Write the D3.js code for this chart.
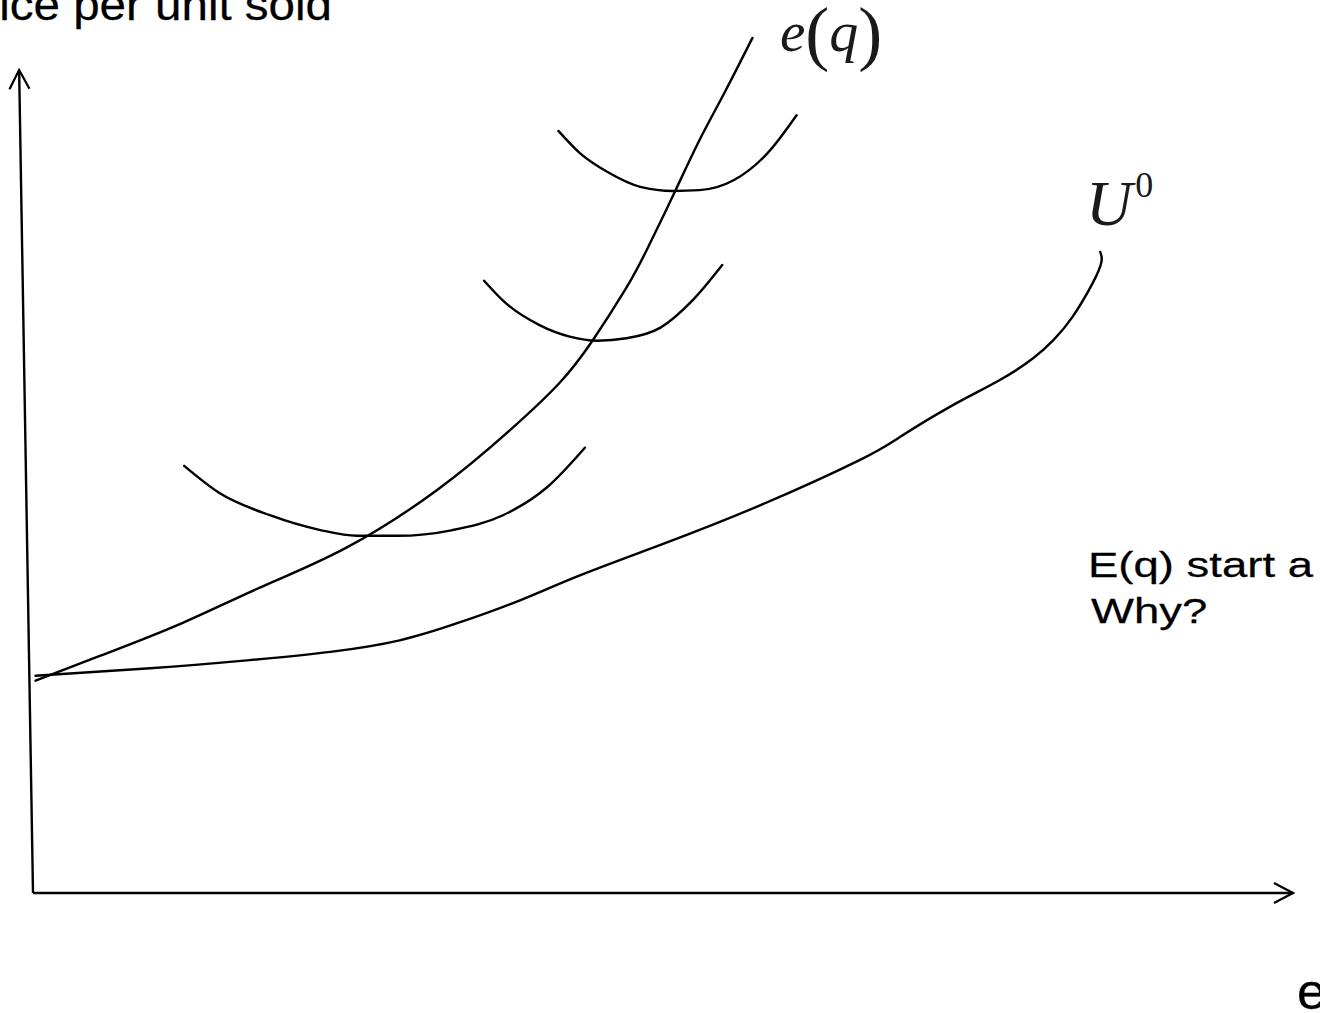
<!DOCTYPE html>
<html>
<head>
<meta charset="utf-8">
<script src="https://cdn.jsdelivr.net/npm/d3@7/dist/d3.min.js"></script>
<style>
  html, body { margin: 0; padding: 0; background: #fff; overflow: hidden; }
  svg { display: block; }
</style>
</head>
<body>
<svg id="chart" width="1320" height="1013"></svg>
<script>
// Quantity / quality (x) against price per unit sold (y), both in 0–100 units.

// Expenditure curve e(q)
const eqX = [0.2, 5.3, 11.7, 18.0, 24.8, 32.1, 37.9, 41.8, 44.4, 47.0, 48.7, 51.0, 52.9, 54.9, 57.1];
const eqY = [25.8, 28.8, 32.7, 37.1, 41.9, 49.0, 56.3, 62.0, 67.1, 73.3, 78.1, 85.4, 91.5, 97.3, 103.9];

// Reservation indifference curve U0
const u0X = [0.2, 9.3, 17.2, 23.6, 29.1, 33.9, 38.7, 43.4, 49.8, 57.7, 65.6, 68.8, 72.8, 76.7, 79.4, 81.0, 82.5, 84.1, 84.8, 84.7];
const u0Y = [26.4, 27.3, 28.3, 29.3, 30.7, 32.9, 35.6, 38.6, 42.3, 47.1, 52.6, 55.4, 59.1, 62.3, 65.0, 67.2, 70.0, 74.1, 76.7, 77.9];

// Three higher indifference curves crossing e(q)
const ic1X = [12.0, 14.8, 18.8, 22.8, 25.7, 28.9, 33.3, 37.3, 40.8, 43.8];
const ic1Y = [51.9, 48.6, 45.9, 44.1, 43.4, 43.4, 44.1, 45.9, 49.3, 54.1];
const ic2X = [35.8, 37.5, 40.2, 42.6, 44.8, 47.1, 49.8, 52.4, 54.7];
const ic2Y = [74.4, 71.7, 69.0, 67.6, 67.1, 67.4, 68.7, 72.1, 76.3];
const ic3X = [41.7, 43.4, 45.6, 48.2, 50.8, 52.9, 55.6, 58.3, 60.6];
const ic3Y = [92.6, 89.9, 87.6, 85.8, 85.3, 85.4, 86.6, 89.9, 94.5];

// Axis ends (the vertical axis leans slightly left toward the top)
const axisXPts = [[0, 0], [100, 0]];
const axisYPts = [[0, 0], [-1.1, 100]];

const labels = {
  yTitle: "Price per unit sold",
  xTitle: "e",
  note1: "E(q) start a",
  note2: "Why?"
};

const svg = d3.select("#chart");
const x = d3.scaleLinear().domain([0, 100]).range([33, 1293]);
const y = d3.scaleLinear().domain([0, 100]).range([893, 70]);

// open chevron arrowhead
svg.append("defs").append("marker")
  .attr("id", "chev")
  .attr("viewBox", "-22 -12 24 24")
  .attr("refX", 0).attr("refY", 0)
  .attr("markerUnits", "userSpaceOnUse")
  .attr("markerWidth", 24).attr("markerHeight", 24)
  .attr("orient", "auto")
  .append("path")
  .attr("d", "M-19,-10 L0,0 L-19,10")
  .attr("fill", "none").attr("stroke", "#000").attr("stroke-width", 2.2);

const straight = d3.line().x(d => x(d[0])).y(d => y(d[1]));
svg.append("path").attr("d", straight(axisXPts))
  .attr("fill", "none").attr("stroke", "#000").attr("stroke-width", 2.4)
  .attr("marker-end", "url(#chev)");
svg.append("path").attr("d", straight(axisYPts))
  .attr("fill", "none").attr("stroke", "#000").attr("stroke-width", 2.4)
  .attr("marker-end", "url(#chev)");

const natural = d3.line().x(d => x(d[0])).y(d => y(d[1])).curve(d3.curveNatural);
const monotone = d3.line().x(d => x(d[0])).y(d => y(d[1])).curve(d3.curveMonotoneX);
const zip = (xs, ys) => xs.map((v, i) => [v, ys[i]]);

function curve(gen, xs, ys) {
  svg.append("path").attr("d", gen(zip(xs, ys)))
    .attr("fill", "none").attr("stroke", "#000")
    .attr("stroke-width", 2.4).attr("stroke-linecap", "round").attr("stroke-linejoin", "round");
}
curve(natural, eqX, eqY);
curve(natural, u0X, u0Y);
curve(monotone, ic1X, ic1Y);
curve(monotone, ic2X, ic2Y);
curve(monotone, ic3X, ic3Y);

// sans-serif annotations (set slightly wide)
function sans(txt, tx, ty, size, sx, anchor) {
  svg.append("text")
    .attr("transform", `translate(${tx},${ty}) scale(${sx},1)`)
    .attr("text-anchor", anchor)
    .attr("font-family", "'Liberation Sans', Arial, sans-serif")
    .attr("font-size", size)
    .attr("fill", "#000")
    .attr("stroke", "#000").attr("stroke-width", 0.25)
    .text(txt);
}
sans(labels.yTitle, 332, 19.5, 44, 1.08, "end");
sans(labels.note1, 1088, 577, 35, 1.3, "start");
sans(labels.note2, 1091, 623, 35, 1.3, "start");
sans(labels.xTitle, 1297, 1009, 50, 1.05, "start");

// math-style curve labels
const eLab = svg.append("text")
  .attr("x", 780).attr("y", 51)
  .attr("font-family", "'Liberation Serif', 'DejaVu Serif', serif")
  .attr("fill", "#1a1a1a");
eLab.append("tspan").attr("font-style", "italic").attr("font-size", 57).text("e");
eLab.append("tspan").attr("font-size", 72).attr("dy", 6).text("(");
eLab.append("tspan").attr("font-style", "italic").attr("font-size", 58).attr("dy", -6).text("q");
eLab.append("tspan").attr("font-size", 72).attr("dy", 6).text(")");

const uLab = svg.append("text")
  .attr("x", 1086).attr("y", 225)
  .attr("font-family", "'Liberation Serif', 'DejaVu Serif', serif")
  .attr("fill", "#1a1a1a");
uLab.append("tspan").attr("font-style", "italic").attr("font-size", 64).text("U");
uLab.append("tspan").attr("font-size", 36).attr("dy", -28).attr("dx", 3).text("0");
</script>
</body>
</html>
